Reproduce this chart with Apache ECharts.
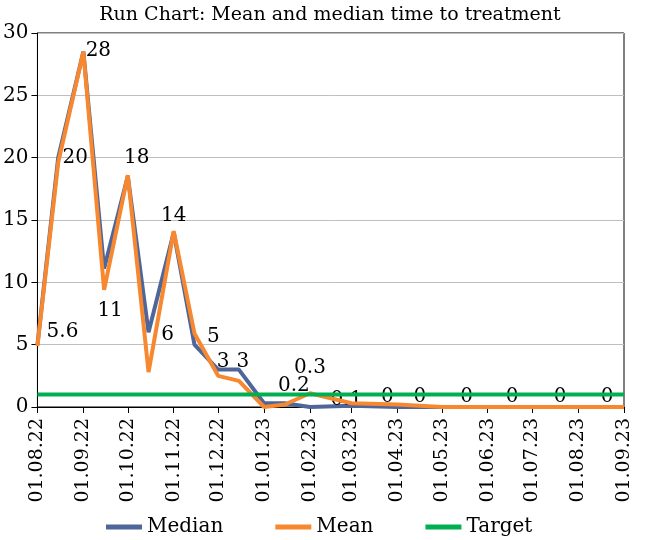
<!DOCTYPE html>
<html>
<head>
<meta charset="utf-8">
<script src="https://cdn.jsdelivr.net/npm/echarts@6/dist/echarts.min.js"></script>
<style>html,body{margin:0;padding:0;background:#fff;}#c{width:660px;height:540px;}</style>
</head>
<body>
<div id="c"></div>
<script>
const dates = ['2022-08-01','2022-08-15','2022-09-01','2022-09-15','2022-10-01','2022-10-15','2022-11-01','2022-11-15','2022-12-01','2022-12-15','2023-01-01','2023-01-15','2023-02-01','2023-03-01','2023-04-01','2023-05-01','2023-06-01','2023-07-01','2023-08-01','2023-09-01'];
const median = [5, 20, 28.5, 11.1, 18.5, 6, 14, 5, 3, 3, 0.3, 0.3, 0, 0.1, 0, 0, 0, 0, 0, 0];
const mean = [4.9, 19.6, 28.5, 9.4, 18.6, 2.8, 14.1, 5.9, 2.5, 2.1, 0, 0.2, 1.1, 0.3, 0.2, 0, 0, 0, 0, 0];
const target = [1, 1, 1, 1, 1, 1, 1, 1, 1, 1, 1, 1, 1, 1, 1, 1, 1, 1, 1, 1];
const labels = ['5.6','20','28','11','18','6','14','5','3','3','','0.2','0.3','0.1','0','0','0','0','0','0'];

// label placement tweaks (pixel offsets from each point)
const labelOffsets = [[25,-13],[17,0],[15,-1],[6,42],[9,-19],[19,3],[0,-17],[19,-8],[5,-8],[4,-8],[0,0],[9,-17],[0,-39],[-5,-6],[-10,-10],[-22,-10],[-21,-10],[-20,-10],[-18,-10],[-17,-10]];

const FONT = 'DejaVu Serif';
const pad = n => (n < 10 ? '0' : '') + n;

const chart = echarts.init(document.getElementById('c'));
chart.setOption({
  animation: false,
  backgroundColor: '#fff',
  textStyle: { fontFamily: FONT },
  title: {
    text: 'Run Chart: Mean and median time to treatment',
    left: 'center', top: 1,
    textStyle: { fontFamily: FONT, fontSize: 19, fontWeight: 'normal', color: '#000' }
  },
  legend: {
    bottom: -2, left: 101,
    icon: 'rect', itemWidth: 36, itemHeight: 5, itemGap: 52,
    textStyle: { fontFamily: FONT, fontSize: 20, color: '#000' },
    data: ['Median', 'Mean', 'Target']
  },
  grid: { left: 37, right: 36, top: 33, bottom: 133, show: true, borderColor: '#000', borderWidth: 1 },
  xAxis: {
    type: 'time',
    min: '2022-08-01', max: '2023-09-01',
    minInterval: 28 * 86400000, maxInterval: 31 * 86400000, splitNumber: 13,
    axisLine: { lineStyle: { color: '#000', width: 1 } },
    axisTick: { show: true, length: 6, lineStyle: { color: '#000' } },
    splitLine: { show: false },
    axisLabel: {
      rotate: 90, fontFamily: FONT, fontSize: 19, color: '#000', margin: 11,
      showMinLabel: true, showMaxLabel: true, hideOverlap: false,
      formatter: v => { const d = new Date(v); return pad(d.getDate()) + '.' + pad(d.getMonth() + 1) + '.' + pad(d.getFullYear() % 100); }
    }
  },
  yAxis: {
    type: 'value', min: 0, max: 30, interval: 5,
    axisLine: { show: true, lineStyle: { color: '#000', width: 1 } },
    axisTick: { show: true, length: 6, lineStyle: { color: '#000' } },
    splitLine: { lineStyle: { color: '#BFBFBF', width: 1 } },
    axisLabel: { fontFamily: FONT, fontSize: 20, color: '#000', margin: 9 }
  },
  series: [
    {
      name: 'Median', type: 'line', color: '#4E6699',
      symbol: 'circle', symbolSize: 0.1, showSymbol: true,
      lineStyle: { width: 4, color: '#4E6699' },
      data: dates.map((d, i) => ({
        value: [d, median[i]],
        label: {
          show: labels[i] !== '', formatter: labels[i], position: 'inside',
          offset: labelOffsets[i], fontFamily: FONT, fontSize: 20, color: '#000'
        }
      })),
      z: 2
    },
    {
      name: 'Mean', type: 'line', color: '#F7882F',
      symbol: 'none', lineStyle: { width: 4, color: '#F7882F' },
      data: dates.map((d, i) => [d, mean[i]]),
      z: 3
    },
    {
      name: 'Target', type: 'line', color: '#00B050',
      symbol: 'none', lineStyle: { width: 4, color: '#00B050' },
      data: dates.map((d, i) => [d, target[i]]),
      z: 4
    }
  ]
});
</script>
</body>
</html>
